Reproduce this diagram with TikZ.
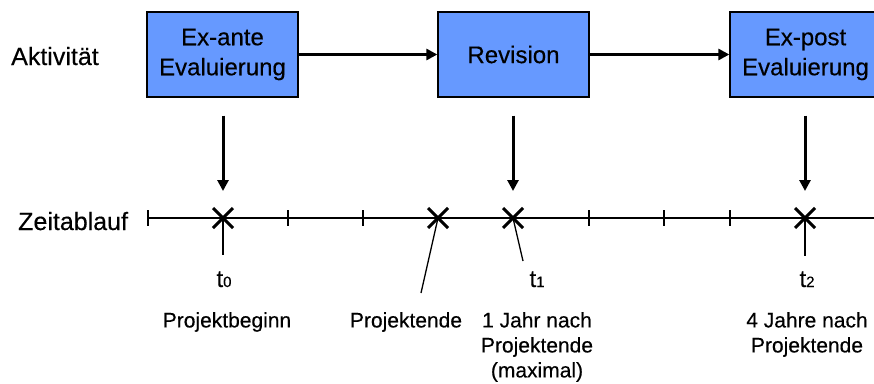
\documentclass[tikz,border=0pt]{standalone}
\usepackage{fontspec}
\setmainfont{Liberation Sans}[FakeBold=0.35]
\usetikzlibrary{arrows.meta}
\definecolor{boxblue}{RGB}{102,153,255}
\tikzset{
  actbox/.style={draw=black, line width=1.3pt, fill=boxblue, minimum width=151pt,
    minimum height=85pt, inner sep=0pt, align=center, font=\fontsize{24}{30}\selectfont},
  flow/.style={line width=3pt, -{Triangle[length=11pt,width=11pt]}},
  axis/.style={line width=2pt},
  tickmark/.style={line width=1.3pt},
  crossline/.style={line width=3pt},
  pointer/.style={line width=1.3pt},
  sidelabel/.style={anchor=base west, inner sep=0pt, font=\fontsize{25}{30}\selectfont},
  tlabel/.style={anchor=base, inner sep=0pt, font=\fontsize{24}{25}\selectfont},
  desc/.style={anchor=north, inner sep=0pt, align=center, font=\fontsize{21}{25}\selectfont},
}
\newcommand{\subidx}[1]{{\fontsize{15}{15}\selectfont #1}}
\begin{document}
\begin{tikzpicture}[x=1pt,y=-1pt]
\useasboundingbox (0,0) rectangle (874,383);
\begin{scope}
\clip (0,0) rectangle (874,383);
% boxes
\node[actbox] (b1) at (222.5,54.5) {Ex-ante\\Evaluierung};
\node[actbox] (b2) at (513.5,54.5) {Revision};
\node[actbox] (b3) at (805.5,54.5) {Ex-post\\Evaluierung};
\draw[flow] (b1) -- (b2);
\draw[flow] (b2) -- (b3);
% side labels
\node[sidelabel] (akt) at (11,65) {Aktivität};
\node[sidelabel] (zeit) at (18,230) {Zeitablauf};
% timeline
\coordinate (tl0) at (148,218);
\coordinate (tl1) at (874,218);
\draw[axis] (tl0) -- (tl1);
\foreach \x in {148,288,363,589,664,730}
  \draw[tickmark] (\x,210) -- (\x,226);
% crosses
\coordinate (c0) at (223,218);
\coordinate (ce) at (438,218);
\coordinate (c1) at (513,218);
\coordinate (c2) at (805,218);
\foreach \c in {c0,ce,c1,c2}
  \draw[crossline] ([shift={(-10,-10)}]\c) -- ([shift={(10,10)}]\c)
                   ([shift={(-10,10)}]\c) -- ([shift={(10,-10)}]\c);
% vertical arrows
\draw[flow, shorten <=18pt, shorten >=27pt] (b1.south -| c0) -- (c0);
\draw[flow, shorten <=18pt, shorten >=27pt] (b2.south -| c1) -- (c1);
\draw[flow, shorten <=18pt, shorten >=27pt] (b3.south -| c2) -- (c2);
% pointer lines
\coordinate (p0) at (223,255);
\coordinate (pe) at (421,293);
\coordinate (p1) at (523,261);
\coordinate (p2) at (805,256);
\draw[pointer] (c0) -- (p0);
\draw[pointer] (ce) -- (pe);
\draw[pointer] (c1) -- (p1);
\draw[pointer] (c2) -- (p2);
% t labels
\node[tlabel] (t0) at (224,287) {t\subidx{0}};
\node[tlabel] (t1) at (537,287) {t\subidx{1}};
\node[tlabel] (t2) at (807,287) {t\subidx{2}};
% descriptions
\node[desc] (d0) at (227,312) {Projektbeginn};
\node[desc] (de) at (406,312) {Projektende};
\node[desc] (d1) at (537,312) {1 Jahr nach\\Projektende\\(maximal)};
\node[desc] (d2) at (807,312) {4 Jahre nach\\Projektende};
\end{scope}
\end{tikzpicture}
\end{document}
